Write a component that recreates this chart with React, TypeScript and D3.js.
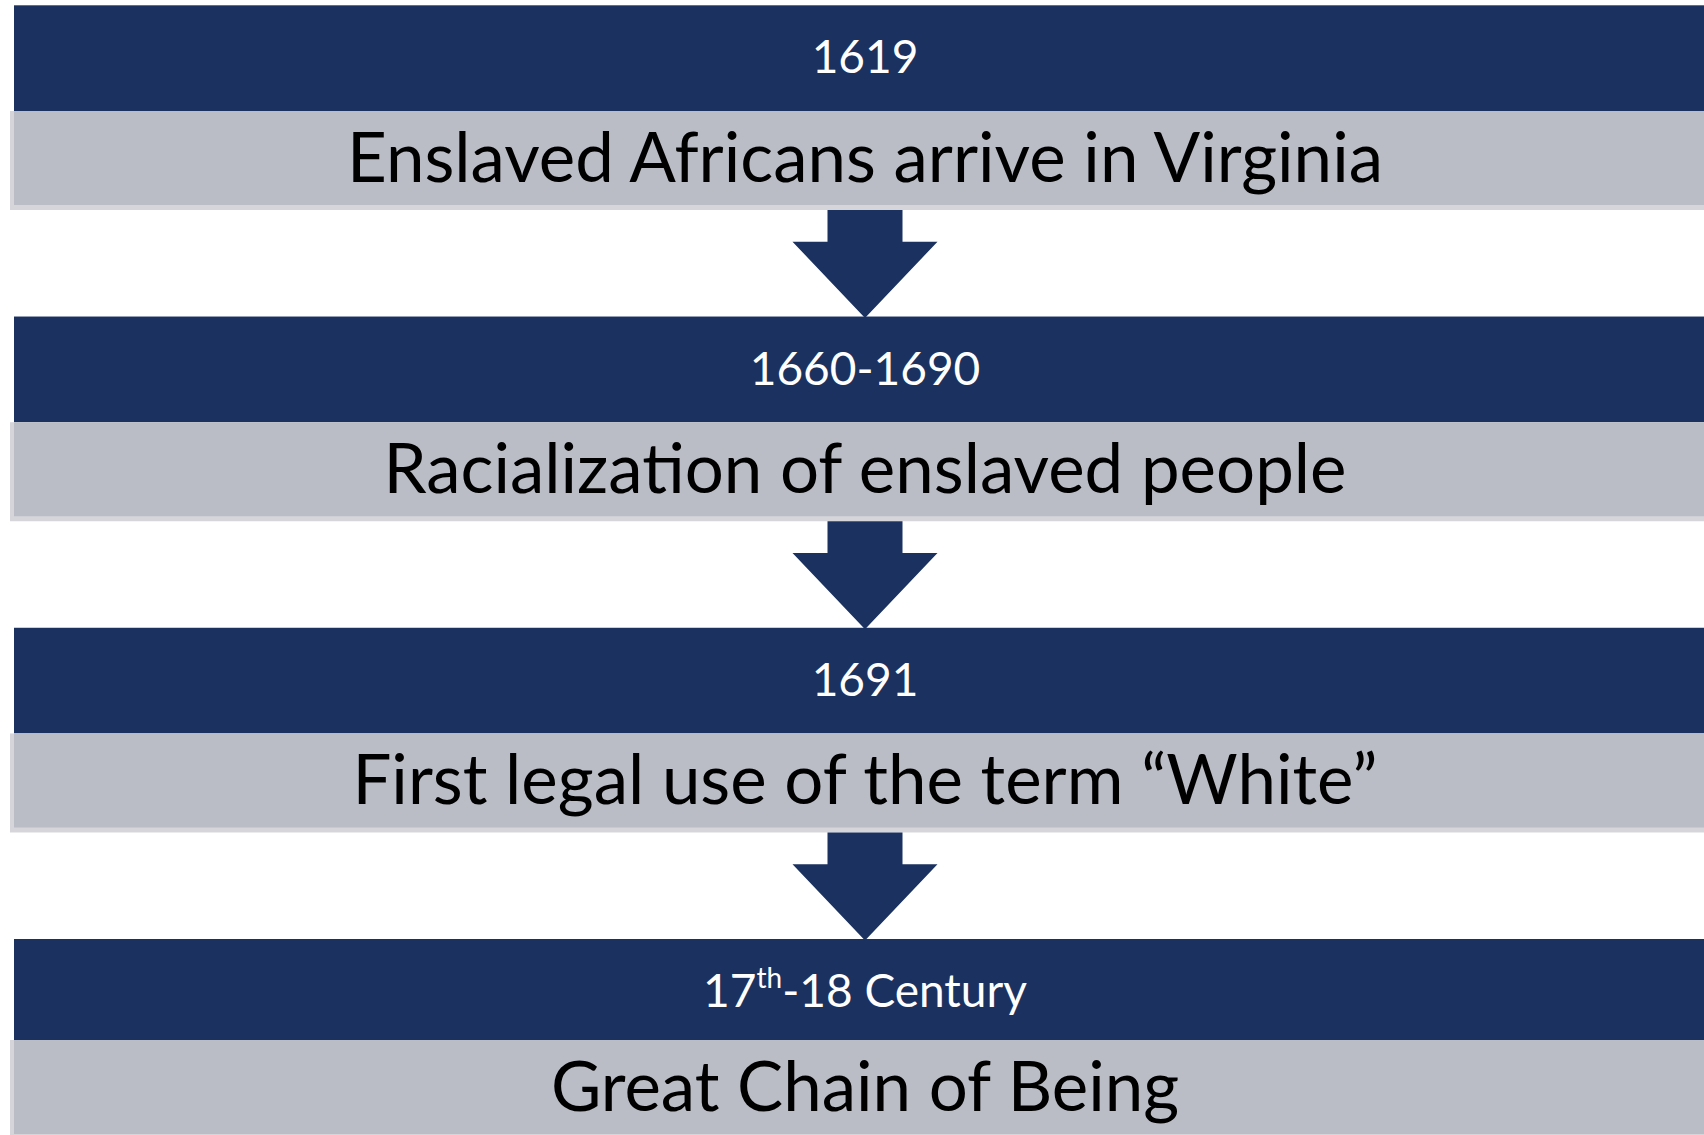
import React from "react";
import * as d3 from "d3";

// timeline content, top to bottom
const years = ["1619", "1660-1690", "1691", "17|th|-18 Century"];
const events = [
  "Enslaved Africans arrive in Virginia",
  "Racialization of enslaved people",
  "First legal use of the term “White”",
  "Great Chain of Being",
];

const W = 1704;
const H = 1135;
const NAVY = "#1b3260";
const GRAY = "#babdc6";
const SHADOW = "#d5d5da";
const FONT = "Lato, 'Open Sans', sans-serif";

// year labels can carry a superscript part written as a|sup|b
const YearLabel = ({ label, x, y }: { label: string; x: number; y: number }) => {
  const parts = label.split("|");
  return (
    <text x={x} y={y} textAnchor="middle" fill="#fff" fontFamily={FONT} fontSize={46}>
      {parts.length === 3 ? (
        <>
          {parts[0]}
          <tspan fontSize={28} dy={-19}>{parts[1]}</tspan>
          <tspan dy={19}>{parts[2]}</tspan>
        </>
      ) : (
        label
      )}
    </text>
  );
};

export default function App() {
  const rowTop = d3.scaleLinear().domain([0, events.length - 1]).range([5.3, 939]);
  const cx = 865;
  const left = 14;
  const grayH = 94;
  const navyH = (i: number) => (i === events.length - 1 ? 101 : 105.7);

  const arrowPath = (i: number) => {
    const grayEnd = rowTop(i) + navyH(i) + grayH;
    const top = grayEnd + 5;
    const tip = rowTop(i + 1) + 1.5;
    const neck = grayEnd + 36.7;
    const p = d3.path();
    p.moveTo(cx - 37.5, top);
    p.lineTo(cx + 37.5, top);
    p.lineTo(cx + 37.5, neck);
    p.lineTo(cx + 72.5, neck);
    p.lineTo(cx, tip);
    p.lineTo(cx - 72.5, neck);
    p.lineTo(cx - 37.5, neck);
    p.closePath();
    return p.toString();
  };

  return (
    <svg
      width={W}
      height={H}
      style={{ position: "absolute", left: 0, top: 0, background: "#fff" }}
    >
      {events.map((ev, i) => {
        const y0 = rowTop(i);
        const gy = y0 + navyH(i);
        return (
          <g key={ev}>
            <rect x={left} y={y0} width={W + 20} height={navyH(i)} fill={NAVY} />
            <rect x={left - 4} y={gy} width={W + 20} height={grayH + 5} fill={SHADOW} />
            <rect x={left} y={gy} width={W + 20} height={grayH} fill={GRAY} />
            <YearLabel label={years[i]} x={cx} y={y0 + 68} />
            <text x={cx} y={gy + 70.7} textAnchor="middle" fill="#000" fontFamily={FONT} fontSize={69}>
              {ev}
            </text>
          </g>
        );
      })}
      {d3.range(events.length - 1).map((i) => (
        <path key={i} d={arrowPath(i)} fill={NAVY} />
      ))}
    </svg>
  );
}
